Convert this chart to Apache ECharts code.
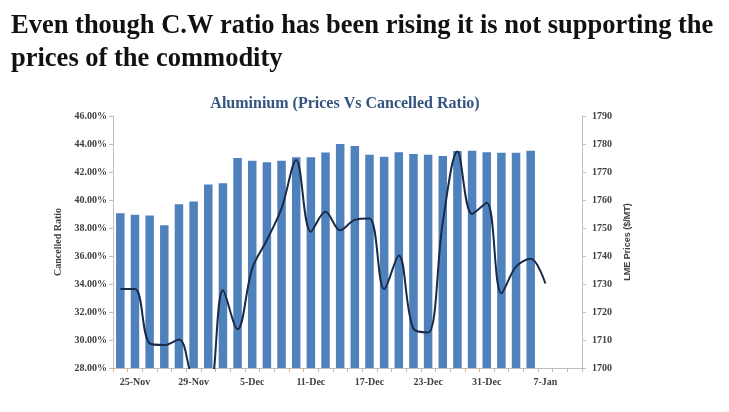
<!DOCTYPE html>
<html>
<head>
<meta charset="utf-8">
<script src="https://cdn.jsdelivr.net/npm/echarts@6/dist/echarts.min.js"></script>
<style>
html,body{margin:0;padding:0;background:#fff;}
#chart{width:729px;height:412px;}
</style>
</head>
<body>
<div id="chart"></div>
<script>
// Trading dates (LME), 32 category slots
const categories = ['22-Nov','25-Nov','26-Nov','27-Nov','28-Nov','29-Nov','2-Dec','3-Dec','4-Dec','5-Dec',
  '6-Dec','9-Dec','10-Dec','11-Dec','12-Dec','13-Dec','16-Dec','17-Dec','18-Dec','19-Dec',
  '20-Dec','23-Dec','24-Dec','27-Dec','30-Dec','31-Dec','2-Jan','3-Jan','6-Jan','7-Jan','8-Jan','9-Jan'];
// Cancelled warrant ratio (%)
const cancelledRatio = [39.05,38.95,38.9,38.2,39.7,39.9,41.1,41.2,43.0,42.8,
  42.7,42.8,43.05,43.05,43.4,44.0,43.86,43.24,43.09,43.41,
  43.29,43.24,43.14,43.5,43.52,43.41,43.38,43.38,43.52,null,null,null];
// LME aluminium prices ($/MT)
const lmePrices = [1728.2,1728.2,1708.8,1708.2,1710.2,1695,1690,1727.8,1713.8,1735.6,
  1745.7,1757.0,1774.3,1748.7,1755.8,1749.2,1752.9,1753.4,1728.2,1740.2,
  1714.0,1712.7,1752,1777.3,1755,1759,1726.7,1736.2,1739,1730.2,null,null];
const leftTicks = {min:28, max:46, interval:2};
const rightTicks = {min:1700, max:1790, interval:10};

const chart = echarts.init(document.getElementById('chart'));
const lblFont = {fontFamily:'Liberation Serif', fontWeight:'bold', fontSize:10, color:'#404040'};
chart.setOption({
  animation:false,
  title:[
    {text:'Even though C.W ratio has been rising it is not supporting the\nprices of the commodity',
     left:6, top:5,
     textStyle:{fontFamily:'Liberation Serif', fontWeight:'bold', fontSize:26.5, lineHeight:33, color:'#111'}},
    {text:'Aluminium (Prices Vs Cancelled Ratio)', left:340, top:91, textAlign:'center',
     textStyle:{fontFamily:'Liberation Serif', fontWeight:'bold', fontSize:16, color:'#34557f'}}
  ],
  grid:{left:113, right:147, top:116, bottom:44},
  xAxis:{
    type:'category', data:categories, boundaryGap:true,
    axisLine:{lineStyle:{color:'#bfbfbf'}},
    axisTick:{show:true, interval:0, length:4, lineStyle:{color:'#d9b08c'}},
    axisLabel:Object.assign({interval:function(i){return i%4===1;}, margin:9}, lblFont)
  },
  yAxis:[
    {type:'value', min:leftTicks.min, max:leftTicks.max, interval:leftTicks.interval, position:'left',
     name:'Cancelled Ratio', nameLocation:'middle', nameGap:46, nameRotate:90,
     nameTextStyle:{fontFamily:'Liberation Serif', fontWeight:'bold', fontSize:10, color:'#404040'},
     axisLine:{show:true, lineStyle:{color:'#bfbfbf'}},
     axisTick:{show:true, length:4, lineStyle:{color:'#bfbfbf'}},
     splitLine:{show:false},
     axisLabel:Object.assign({formatter:function(v){return v.toFixed(2)+'%';}, margin:6}, lblFont)},
    {type:'value', min:rightTicks.min, max:rightTicks.max, interval:rightTicks.interval, position:'right',
     name:'LME Prices ($/MT)', nameLocation:'middle', nameGap:37, nameRotate:90,
     nameTextStyle:{fontFamily:'Liberation Sans', fontWeight:'bold', fontSize:9, color:'#404040'},
     axisLine:{show:true, lineStyle:{color:'#bfbfbf'}},
     axisTick:{show:true, length:4, lineStyle:{color:'#bfbfbf'}},
     splitLine:{show:false},
     axisLabel:Object.assign({formatter:function(v){return String(v);}, margin:10}, lblFont)}
  ],
  series:[
    {type:'bar', data:cancelledRatio, yAxisIndex:0, barCategoryGap:'42%',
     itemStyle:{color:'#4f81bd'}},
    {type:'line', data:lmePrices, yAxisIndex:1, smooth:0.35, symbol:'none', clip:true,
     lineStyle:{color:'#1b2a48', width:2}}
  ]
});
</script>
</body>
</html>
